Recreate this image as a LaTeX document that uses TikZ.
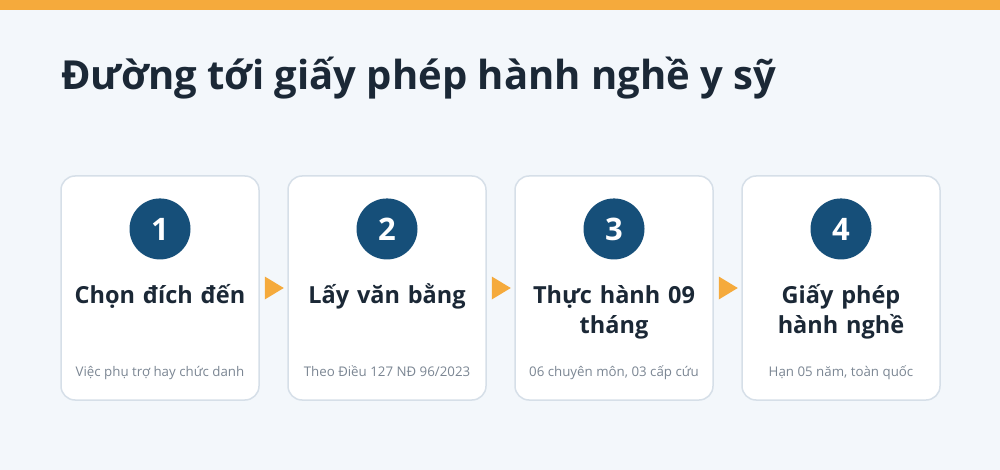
\documentclass[tikz,border=0pt]{standalone}
\usepackage{fontspec}
\setmainfont{Open Sans}
\usetikzlibrary{positioning,calc}
\definecolor{bg}{HTML}{F3F7FB}
\definecolor{accent}{HTML}{F5AA3C}
\definecolor{navy}{HTML}{164F79}
\definecolor{ink}{HTML}{1B2836}
\definecolor{muted}{HTML}{7B8693}
\definecolor{edge}{HTML}{D6DFE8}
\tikzset{
  card/.style={draw=edge, line width=1.5pt, fill=white, rounded corners=14pt,
    minimum width=198pt, minimum height=224pt, inner sep=0pt},
  badge/.style={circle, fill=navy, text=white, minimum size=61pt, inner sep=0pt,
    font=\bfseries\fontsize{31}{31}\selectfont},
  heading/.style={text=ink, text width=190pt, align=center, inner sep=0pt, anchor=base,
    font=\bfseries\fontsize{23.5}{30}\selectfont},
  note/.style={text=muted, inner sep=0pt, anchor=base, font=\fontsize{13.3}{16}\selectfont},
}
\begin{document}
\begin{tikzpicture}[x=1pt, y=-1pt]
  \fill[bg] (0,0) rectangle (1000,470);
  \fill[accent] (0,0) rectangle (1000,10);
  \useasboundingbox (0,0) rectangle (1000,470);

  \node[anchor=base west, inner sep=0pt, text=ink, font=\bfseries\fontsize{40}{48}\selectfont]
    (title) at (61,90) {Đường tới giấy phép hành nghề y sỹ};

  \node[card] (c1) at (160,288) {};
  \node[card] (c2) at (387,288) {};
  \node[card] (c3) at (614,288) {};
  \node[card] (c4) at (841,288) {};

  \node[badge, below=23pt of c1.north] (b1) {1};
  \node[badge, below=23pt of c2.north] (b2) {2};
  \node[badge, below=23pt of c3.north] (b3) {3};
  \node[badge, below=23pt of c4.north] (b4) {4};

  \node[heading] (h1) at (160,303) {Chọn đích đến};
  \node[heading] (h2) at (387,303) {Lấy văn bằng};
  \node[heading] (h3) at (614,303) {Thực hành 09\\tháng};
  \node[heading] (h4) at (841,303) {Giấy phép\\hành nghề};

  \node[note] (n1) at (160,376) {Việc phụ trợ hay chức danh};
  \node[note] (n2) at (387,376) {Theo Điều 127 NĐ 96/2023};
  \node[note] (n3) at (614,376) {06 chuyên môn, 03 cấp cứu};
  \node[note] (n4) at (841,376) {Hạn 05 năm, toàn quốc};

  \fill[accent] ($(c1.east)+(5,-11.5)$) -- ($(c1.east)+(24,0)$) -- ($(c1.east)+(5,11.5)$) -- cycle;
  \fill[accent] ($(c2.east)+(5,-11.5)$) -- ($(c2.east)+(24,0)$) -- ($(c2.east)+(5,11.5)$) -- cycle;
  \fill[accent] ($(c3.east)+(5,-11.5)$) -- ($(c3.east)+(24,0)$) -- ($(c3.east)+(5,11.5)$) -- cycle;
\end{tikzpicture}
\end{document}
